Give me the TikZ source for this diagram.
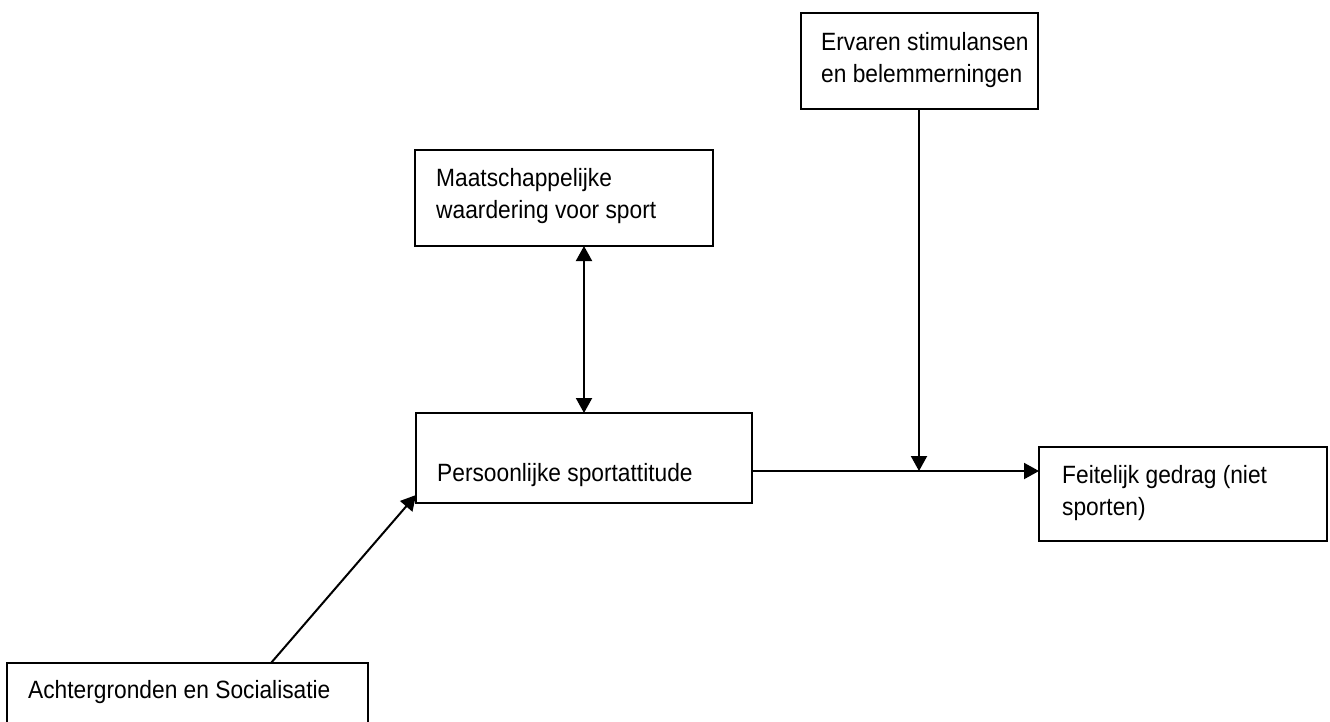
\documentclass[tikz,border=0pt]{standalone}
\usepackage{fontspec}
\setmainfont{Liberation Sans}[FakeStretch=0.91]
\usetikzlibrary{arrows.meta}
\begin{document}
\begin{tikzpicture}[x=1pt,y=-1pt,
  box/.style={draw,line width=2pt,rectangle,inner sep=0pt,outer sep=0pt,anchor=north west},
  lbl/.style={anchor=base west,inner sep=0pt,align=left,font=\fontsize{25}{32}\selectfont},
  conn/.style={line width=2pt},
  tip/.style={-{Triangle[width=16pt,length=15pt]}},
  bitip/.style={{Triangle[width=16pt,length=15pt]}-{Triangle[width=16pt,length=15pt]}}]
\clip (0,0) rectangle (1330,721);
\fill[white] (0,0) rectangle (1330,721);
% boxes
\node[box,minimum width=298pt,minimum height=96pt] (maat) at (415,150) {};
\node[box,minimum width=336pt,minimum height=90pt] (pers) at (416,413) {};
\node[box,minimum width=237pt,minimum height=96pt] (erv) at (801,13) {};
\node[box,minimum width=288pt,minimum height=94pt] (feit) at (1039,447) {};
\node[box,minimum width=361pt,minimum height=90pt] (ach) at (7,663) {};
% texts (anchored at the baseline of the last line)
\node[lbl] (tmaat) at (436,218) {Maatschappelijke\\waardering voor sport};
\node[lbl] (tpers) at (437,481) {Persoonlijke sportattitude};
\node[lbl] (terv) at (821,82) {Ervaren stimulansen\\en belemmerningen};
\node[lbl] (tfeit) at (1062,515) {Feitelijk gedrag (niet\\sporten)};
\node[lbl] (tach) at (28,698) {Achtergronden en Socialisatie};
% helper coordinates
\coordinate (bx) at (584,0);
\coordinate (j) at (919,471);
\coordinate (da) at (271,0);
\coordinate (dt) at (0,495);
% connectors
\draw[conn,bitip] (maat.south -| bx) -- (pers.north -| bx);
\draw[conn,tip] (erv.south -| j) -- (j);
\draw[conn,tip] (pers.east |- j) -- (feit.west |- j);
\draw[conn,tip] (ach.north -| da) -- (pers.west |- dt);
\end{tikzpicture}
\end{document}
